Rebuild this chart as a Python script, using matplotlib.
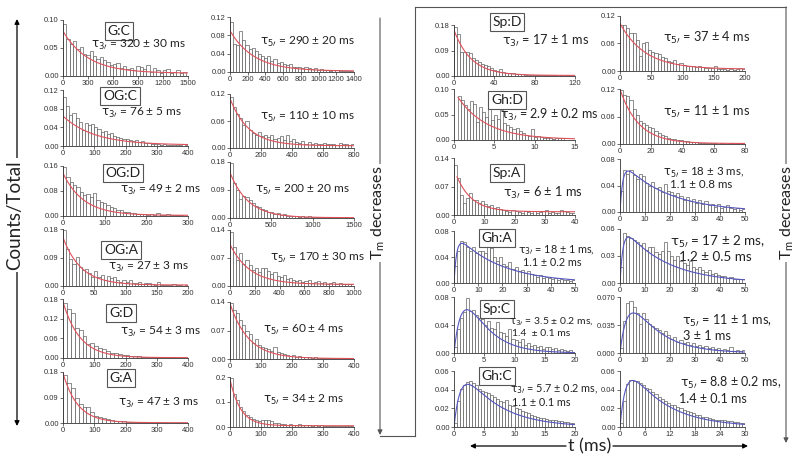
import numpy as np
import matplotlib
matplotlib.use("Agg")
import matplotlib.pyplot as plt
from matplotlib.patches import FancyArrowPatch
from matplotlib.lines import Line2D

plt.rcParams["mathtext.fontset"] = "dejavusans"

# ---------------- data ----------------
left_names = ["G:C", "OG:C", "OG:D", "OG:A", "G:D", "G:A"]
right_names = ["Sp:D", "Gh:D", "Sp:A", "Gh:A", "Sp:C", "Gh:C"]

tau3_left = ["320 ± 30 ms", "76 ± 5 ms", "49 ± 2 ms", "27 ± 3 ms", "54 ± 3 ms", "47 ± 3 ms"]
tau5_left = ["290 ± 20 ms", "110 ± 10 ms", "200 ± 20 ms", "170 ± 30 ms", "60 ± 4 ms", "34 ± 2 ms"]
tau3_right = [["17 ± 1 ms"], ["2.9 ± 0.2 ms"], ["6 ± 1 ms"],
              ["18 ± 1 ms,", "1.1 ± 0.2 ms"], ["3.5 ± 0.2 ms,", "1.4  ± 0.1 ms"],
              ["5.7 ± 0.2 ms,", "1.1 ± 0.1 ms"]]
tau5_right = [["37 ± 4 ms"], ["11 ± 1 ms"], ["18 ± 3 ms,", "1.1 ± 0.8 ms"],
              ["17 ± 2 ms,", "1.2 ± 0.5 ms"], ["11 ± 1 ms,", "3 ± 1 ms"],
              ["8.8 ± 0.2 ms,", "1.4 ± 0.1 ms"]]

# histogram heights (Counts/Total)
gc_3 = [0.093, 0.066, 0.058, 0.062, 0.048, 0.052, 0.040, 0.038, 0.045, 0.035, 0.030, 0.034, 0.028,
        0.025, 0.020, 0.022, 0.024, 0.015, 0.018, 0.012, 0.014, 0.010, 0.018, 0.016, 0.012, 0.020,
        0.008, 0.014, 0.010, 0.006, 0.010, 0.012, 0.006, 0.008, 0.010, 0.005, 0.008]
gc_5 = [0.110, 0.062, 0.058, 0.089, 0.070, 0.058, 0.050, 0.052, 0.045, 0.040, 0.035, 0.030, 0.035,
        0.025, 0.028, 0.020, 0.022, 0.018, 0.015, 0.018, 0.012, 0.010, 0.012, 0.008, 0.010, 0.008,
        0.006, 0.008, 0.005, 0.006, 0.004, 0.005, 0.003, 0.004, 0.005, 0.002, 0.003, 0.002, 0.003, 0.002]
ogc_3 = [0.106, 0.086, 0.066, 0.070, 0.060, 0.052, 0.034, 0.050, 0.044, 0.048, 0.040, 0.036, 0.030,
         0.032, 0.025, 0.028, 0.022, 0.020, 0.018, 0.015, 0.016, 0.012, 0.010, 0.012, 0.008, 0.010,
         0.006, 0.007, 0.005, 0.004, 0.005, 0.003, 0.004, 0.002, 0.003, 0.002, 0.003, 0.002, 0.001, 0.002]
ogc_5 = [0.114, 0.092, 0.076, 0.066, 0.052, 0.060, 0.040, 0.034, 0.030, 0.036, 0.026, 0.030, 0.024,
         0.028, 0.020, 0.022, 0.026, 0.018, 0.030, 0.016, 0.020, 0.014, 0.012, 0.016, 0.010, 0.014,
         0.008, 0.012, 0.010, 0.008, 0.012, 0.010, 0.008, 0.010, 0.006, 0.012, 0.008, 0.010, 0.006, 0.008]
ogd_3 = [0.156, 0.126, 0.108, 0.100, 0.092, 0.078, 0.066, 0.070, 0.062, 0.072, 0.050, 0.044, 0.040,
         0.034, 0.030, 0.024, 0.020, 0.018, 0.014, 0.012, 0.010, 0.008, 0.007, 0.006, 0.005, 0.004,
         0.006, 0.003, 0.008, 0.004, 0.002, 0.006, 0.003, 0.002, 0.003, 0.002, 0.001]
ogd_5 = [0.178, 0.112, 0.090, 0.060, 0.070, 0.068, 0.058, 0.048, 0.040, 0.034, 0.030, 0.026, 0.020,
         0.018, 0.014, 0.016, 0.010, 0.012, 0.008, 0.006, 0.008, 0.006, 0.004, 0.005, 0.003, 0.006,
         0.002, 0.003, 0.002, 0.002, 0.003, 0.001, 0.002, 0.001, 0.002, 0.001, 0.001, 0.002, 0.001, 0.001]
oga_3 = [0.178, 0.116, 0.084, 0.068, 0.092, 0.060, 0.050, 0.054, 0.040, 0.030, 0.046, 0.028, 0.036,
         0.020, 0.032, 0.024, 0.030, 0.018, 0.014, 0.020, 0.012, 0.018, 0.010, 0.008, 0.012, 0.006,
         0.008, 0.010, 0.005, 0.004, 0.014, 0.004, 0.003, 0.002, 0.004, 0.006, 0.002, 0.003, 0.001, 0.002]
oga_5 = [0.136, 0.098, 0.064, 0.082, 0.056, 0.066, 0.052, 0.040, 0.046, 0.036, 0.044, 0.046, 0.038,
         0.030, 0.034, 0.026, 0.022, 0.028, 0.018, 0.020, 0.014, 0.012, 0.016, 0.010, 0.012, 0.014,
         0.008, 0.010, 0.012, 0.008, 0.010, 0.006, 0.008, 0.010, 0.006, 0.008, 0.004, 0.006, 0.005, 0.004]
gd_3 = [0.168, 0.148, 0.138, 0.092, 0.086, 0.066, 0.042, 0.046, 0.036, 0.032, 0.026, 0.022, 0.016,
        0.014, 0.012, 0.010, 0.008, 0.006, 0.006, 0.005, 0.004, 0.003, 0.004, 0.002, 0.002, 0.001,
        0.002, 0.001, 0.001, 0.0, 0.0, 0.001]
gd_5 = [0.138, 0.120, 0.112, 0.096, 0.084, 0.068, 0.062, 0.040, 0.048, 0.034, 0.030, 0.026, 0.024,
        0.020, 0.030, 0.016, 0.014, 0.012, 0.010, 0.008, 0.009, 0.006, 0.007, 0.005, 0.004, 0.005,
        0.003, 0.006, 0.003, 0.002, 0.003, 0.002, 0.002, 0.003, 0.001, 0.002, 0.001, 0.001, 0.002, 0.001]
ga_3 = [0.168, 0.140, 0.122, 0.088, 0.068, 0.058, 0.056, 0.038, 0.026, 0.020, 0.016, 0.014, 0.010,
        0.008, 0.006, 0.006, 0.004, 0.003, 0.002, 0.003, 0.002, 0.002, 0.001, 0.001, 0.001, 0.0,
        0.001, 0.0, 0.001, 0.0, 0.0, 0.001]
ga_5 = [0.197, 0.134, 0.108, 0.080, 0.066, 0.048, 0.040, 0.034, 0.028, 0.026, 0.030, 0.028, 0.028,
        0.026, 0.016, 0.018, 0.012, 0.014, 0.010, 0.012, 0.008, 0.010, 0.012, 0.010, 0.008, 0.010,
        0.006, 0.008, 0.006, 0.008, 0.005, 0.006, 0.005, 0.004, 0.005, 0.004, 0.005, 0.003, 0.004, 0.006]
spd_3 = [0.174, 0.150, 0.086, 0.086, 0.084, 0.080, 0.064, 0.058, 0.050, 0.044, 0.040, 0.036, 0.030,
         0.022, 0.018, 0.024, 0.014, 0.012, 0.010, 0.012, 0.008, 0.006, 0.008, 0.005, 0.004, 0.005,
         0.003, 0.004, 0.002, 0.003, 0.002, 0.003, 0.002, 0.002, 0.001, 0.002, 0.001, 0.003, 0.001, 0.001]
spd_5 = [0.100, 0.100, 0.094, 0.082, 0.082, 0.068, 0.032, 0.060, 0.064, 0.046, 0.042, 0.040, 0.036,
         0.030, 0.028, 0.022, 0.020, 0.024, 0.016, 0.018, 0.014, 0.012, 0.012, 0.010, 0.008, 0.010,
         0.008, 0.006, 0.007, 0.006, 0.010, 0.005, 0.004, 0.005, 0.003, 0.004, 0.003, 0.004, 0.006, 0.004]
ghd_3 = [0.086, 0.078, 0.068, 0.060, 0.076, 0.070, 0.036, 0.064, 0.054, 0.046, 0.060, 0.040, 0.050,
         0.042, 0.058, 0.034, 0.030, 0.026, 0.022, 0.024, 0.018, 0.014, 0.010, 0.008, 0.022, 0.006,
         0.008, 0.006, 0.004, 0.003, 0.004, 0.002, 0.003, 0.004, 0.003]
ghd_5 = [0.117, 0.108, 0.104, 0.096, 0.076, 0.064, 0.050, 0.046, 0.042, 0.038, 0.036, 0.028, 0.024,
         0.020, 0.018, 0.014, 0.012, 0.010, 0.009, 0.008, 0.006, 0.007, 0.005, 0.004, 0.004, 0.003,
         0.003, 0.002, 0.003, 0.002, 0.002, 0.001, 0.002, 0.001, 0.001, 0.002, 0.0, 0.0, 0.0, 0.0]
spa_3 = [0.124, 0.090, 0.050, 0.030, 0.042, 0.054, 0.036, 0.038, 0.030, 0.034, 0.026, 0.022, 0.024,
         0.018, 0.020, 0.014, 0.012, 0.010, 0.008, 0.012, 0.010, 0.008, 0.006, 0.010, 0.008, 0.006,
         0.010, 0.006, 0.008, 0.010, 0.012, 0.006, 0.008, 0.004, 0.006, 0.012, 0.010, 0.008, 0.006, 0.004]
spa_5 = [0.031, 0.063, 0.058, 0.064, 0.056, 0.050, 0.058, 0.054, 0.044, 0.040, 0.046, 0.036, 0.038,
         0.030, 0.042, 0.032, 0.030, 0.026, 0.028, 0.024, 0.018, 0.022, 0.016, 0.020, 0.014, 0.018,
         0.012, 0.016, 0.010, 0.012, 0.008, 0.012, 0.006, 0.008, 0.010, 0.006, 0.004, 0.006, 0.003, 0.004]
gha_3 = [0.026, 0.050, 0.065, 0.063, 0.056, 0.050, 0.056, 0.046, 0.050, 0.050, 0.046, 0.056, 0.054,
         0.040, 0.034, 0.040, 0.030, 0.026, 0.032, 0.022, 0.024, 0.018, 0.020, 0.016, 0.018, 0.014,
         0.012, 0.010, 0.012, 0.008, 0.010, 0.008, 0.006, 0.008, 0.005, 0.006, 0.004, 0.005, 0.003, 0.004]
gha_5 = [0.018, 0.056, 0.052, 0.050, 0.048, 0.046, 0.042, 0.044, 0.037, 0.040, 0.040, 0.034, 0.032,
         0.036, 0.046, 0.036, 0.030, 0.026, 0.030, 0.024, 0.022, 0.020, 0.024, 0.018, 0.016, 0.018,
         0.014, 0.012, 0.014, 0.010, 0.011, 0.009, 0.008, 0.008, 0.006, 0.007, 0.005, 0.005, 0.004, 0.004]
spc_3 = [0.008, 0.034, 0.050, 0.058, 0.078, 0.060, 0.062, 0.054, 0.050, 0.048, 0.040, 0.046, 0.036,
         0.034, 0.044, 0.030, 0.028, 0.024, 0.034, 0.020, 0.018, 0.016, 0.020, 0.012, 0.014, 0.010,
         0.012, 0.008, 0.010, 0.006, 0.008, 0.008, 0.006, 0.007, 0.004, 0.006, 0.004, 0.003, 0.004, 0.002]
spc_5 = [0.006, 0.040, 0.062, 0.065, 0.058, 0.050, 0.036, 0.050, 0.042, 0.036, 0.034, 0.031, 0.029,
         0.025, 0.028, 0.022, 0.018, 0.020, 0.014, 0.016, 0.012, 0.014, 0.010, 0.012, 0.009, 0.010,
         0.008, 0.009, 0.006, 0.008, 0.005, 0.006, 0.004, 0.005, 0.004, 0.008, 0.003, 0.004, 0.002, 0.004]
ghc_3 = [0.004, 0.028, 0.041, 0.045, 0.048, 0.049, 0.047, 0.045, 0.041, 0.039, 0.038, 0.036, 0.034,
         0.032, 0.030, 0.028, 0.027, 0.029, 0.024, 0.022, 0.020, 0.019, 0.017, 0.016, 0.015, 0.013,
         0.012, 0.011, 0.010, 0.010, 0.009, 0.008, 0.008, 0.007, 0.006, 0.006, 0.005, 0.005, 0.004, 0.004]
ghc_5 = [0.004, 0.028, 0.046, 0.050, 0.049, 0.049, 0.047, 0.045, 0.042, 0.041, 0.038, 0.035, 0.032,
         0.030, 0.028, 0.026, 0.024, 0.024, 0.021, 0.020, 0.018, 0.017, 0.016, 0.015, 0.013, 0.013,
         0.011, 0.011, 0.010, 0.009, 0.008, 0.008, 0.007, 0.007, 0.006, 0.006, 0.005, 0.005, 0.004, 0.004]

# bin start / width (ms)
bins_c1 = [(0, 40), (0, 10), (0, 8), (0, 5), (0, 12.5), (0, 12.5)]
bins_c2 = [(0, 35), (0, 20), (0, 37.5), (0, 25), (0, 10), (0, 10)]
bins_c3 = [(0, 3), (0.5, 0.375), (0, 1), (0, 1.25), (0, 0.5), (0, 0.5)]
bins_c4 = [(0, 5), (0, 2), (0, 1.25), (0, 1.25), (0, 1.25), (0, 0.75)]

# fits: mono-exponential (amp, tau, offset, t0) or rise/decay (A, tau1, tau2)
fit_c1 = [("mono", 0.075, 300, 0.005, 0), ("mono", 0.062, 100, 0.002, 0), ("mono", 0.135, 49, 0.002, 0),
          ("mono", 0.150, 29, 0.003, 0), ("mono", 0.170, 54, 0.001, 0), ("mono", 0.175, 47, 0.001, 0)]
fit_c2 = [("mono", 0.088, 270, 0.002, 0), ("mono", 0.105, 120, 0.005, 0), ("mono", 0.145, 220, 0.001, 0),
          ("mono", 0.100, 160, 0.004, 0), ("mono", 0.135, 60, 0.001, 0), ("mono", 0.185, 34, 0.005, 0)]
fit_c3 = [("mono", 0.160, 17, 0.002, 0), ("mono", 0.095, 3.6, 0.001, 0.5), ("mono", 0.105, 5, 0.008, 1),
          ("bi", 0.078, 18, 1.1), ("bi", 0.19, 3.5, 1.4), ("bi", 0.084, 5.7, 1.1)]
fit_c4 = [("mono", 0.100, 40, 0.004, 0), ("mono", 0.118, 12, 0.001, 0), ("bi", 0.079, 18, 1.1),
          ("bi", 0.067, 17, 1.2), ("bi", 0.112, 11, 3), ("bi", 0.084, 8.8, 1.4)]

# axes scales
xlim_c1 = [1500, 400, 300, 200, 400, 400]
xticks_c1 = [[0, 300, 600, 900, 1200, 1500], [0, 100, 200, 300, 400], [0, 100, 200, 300],
             [0, 50, 100, 150, 200], [0, 100, 200, 300, 400], [0, 100, 200, 300, 400]]
yticks_c1 = [["0.00", "0.05", "0.10"], ["0.00", "0.04", "0.08", "0.12"], ["0.00", "0.08", "0.16"],
             ["0.00", "0.09", "0.18"], ["0.00", "0.06", "0.12", "0.18"], ["0.00", "0.09", "0.18"]]
xlim_c2 = [1400, 800, 1500, 1000, 400, 400]
xticks_c2 = [[0, 200, 400, 600, 800, 1000, 1200, 1400], [0, 200, 400, 600, 800], [0, 500, 1000, 1500],
             [0, 200, 400, 600, 800, 1000], [0, 100, 200, 300, 400], [0, 100, 200, 300, 400]]
yticks_c2 = [["0.00", "0.04", "0.08", "0.12"], ["0.00", "0.06", "0.12"], ["0.00", "0.09", "0.18"],
             ["0.00", "0.07", "0.14"], ["0.00", "0.07", "0.14"], ["0.0", "0.1", "0.2"]]
xlim_c3 = [120, 15, 40, 50, 20, 20]
xticks_c3 = [[0, 40, 80, 120], [0, 5, 10, 15], [0, 10, 20, 30, 40], [0, 10, 20, 30, 40, 50],
             [0, 5, 10, 15, 20], [0, 5, 10, 15, 20]]
yticks_c3 = [["0.00", "0.09", "0.18"], ["0.00", "0.05", "0.10"], ["0.00", "0.07", "0.14"],
             ["0.00", "0.04", "0.08"], ["0.00", "0.04", "0.08"], ["0.00", "0.02", "0.04", "0.06"]]
xlim_c4 = [200, 80, 50, 50, 50, 30]
xticks_c4 = [[0, 50, 100, 150, 200], [0, 20, 40, 60, 80], [0, 10, 20, 30, 40, 50],
             [0, 10, 20, 30, 40, 50], [0, 10, 20, 30, 40, 50], [0, 6, 12, 18, 24, 30]]
yticks_c4 = [["0.00", "0.06", "0.12"], ["0.00", "0.06", "0.12"], ["0.00", "0.04", "0.08"],
             ["0.00", "0.03", "0.06"], ["0.000", "0.035", "0.070"], ["0.00", "0.02", "0.04", "0.06"]]

hist_c1 = [gc_3, ogc_3, ogd_3, oga_3, gd_3, ga_3]
hist_c2 = [gc_5, ogc_5, ogd_5, oga_5, gd_5, ga_5]
hist_c3 = [spd_3, ghd_3, spa_3, gha_3, spc_3, ghc_3]
hist_c4 = [spd_5, ghd_5, spa_5, gha_5, spc_5, ghc_5]

# ---------------- layout (pixels) ----------------
W, H = 800, 462
fig = plt.figure(figsize=(W / 100, H / 100), dpi=100)
TXT = ["Lato", "DejaVu Sans"]

def fx(x):
    return x / W

def fy(y):
    return 1 - y / H

col_x = [(63, 188), (230, 354), (454, 575), (620, 745)]
rows = [
    [(20, 76), (90, 146), (166, 216), (229, 286), (299, 358), (372, 423)],
    [(17, 72), (94, 148), (162, 218), (230, 286), (302, 359), (377, 427)],
    [(25, 76), (89, 140), (158, 215), (231, 283), (297, 353), (371, 427)],
    [(16, 71), (89, 144), (159, 212), (229, 283), (297, 353), (371, 427)],
]

RED = "#e0505a"
BLUE = "#5555c0"


def draw_panel(c, r, vals, binspec, fit, xmax, xt, ytl):
    x0, x1 = col_x[c]
    yt, yb = rows[c][r]
    ax = fig.add_axes([fx(x0), fy(yb), (x1 - x0) / W, (yb - yt) / H])
    start, width = binspec
    lefts = start + width * np.arange(len(vals))
    ax.bar(lefts, vals, width=width, align="edge", facecolor="white",
           edgecolor="#505050", linewidth=0.45)
    if fit[0] == "mono":
        _, a, tau, off, t0 = fit
        t = np.linspace(t0, xmax, 300)
        ax.plot(t, a * np.exp(-t / tau) + off, color=RED, lw=0.8)
    else:
        _, a, t1, t2 = fit
        t = np.linspace(0, xmax, 400)
        ax.plot(t, a * (np.exp(-t / t1) - np.exp(-t / t2)), color=BLUE, lw=0.8)
    ymax = float(ytl[-1])
    ax.set_xlim(0, xmax)
    ax.set_ylim(0, ymax)
    ax.set_xticks(xt)
    ax.set_xticklabels([str(v) for v in xt])
    ax.set_yticks([float(s) for s in ytl])
    ax.set_yticklabels(ytl)
    for s in ["top", "right"]:
        ax.spines[s].set_visible(False)
    for s in ["left", "bottom"]:
        ax.spines[s].set_linewidth(0.6)
        ax.spines[s].set_color("#333333")
    ax.tick_params(labelsize=5.5, length=2, width=0.5, pad=1, colors="#333333")
    for lab in ax.get_xticklabels() + ax.get_yticklabels():
        lab.set_family("Liberation Sans")
    return ax


for r in range(6):
    draw_panel(0, r, hist_c1[r], bins_c1[r], fit_c1[r], xlim_c1[r], xticks_c1[r], yticks_c1[r])
    draw_panel(1, r, hist_c2[r], bins_c2[r], fit_c2[r], xlim_c2[r], xticks_c2[r], yticks_c2[r])
    draw_panel(2, r, hist_c3[r], bins_c3[r], fit_c3[r], xlim_c3[r], xticks_c3[r], yticks_c3[r])
    draw_panel(3, r, hist_c4[r], bins_c4[r], fit_c4[r], xlim_c4[r], xticks_c4[r], yticks_c4[r])

# label boxes
box_pos_left = [(119, 31), (120, 96), (123, 173), (121, 250), (121, 313), (121, 378)]
box_pos_right = [(507, 22), (507, 100), (507, 173), (497, 238), (497, 309), (497, 376)]
for names, poss in ((left_names, box_pos_left), (right_names, box_pos_right)):
    for n, (x, y) in zip(names, poss):
        fig.text(fx(x), fy(y), n, ha="center", va="center", fontsize=10, family=TXT,
                 color="#222222",
                 bbox=dict(boxstyle="square,pad=0.2", fc="white", ec="#555555", lw=0.8))

T3 = r"$\mathrm{\tau_{3\prime}}$ = "
T5 = r"$\mathrm{\tau_{5\prime}}$ = "

pos_c1 = [(91, 45), (101, 113), (120, 190), (108, 267), (120, 332), (118, 403)]
pos_c2 = [(260, 42), (260, 117), (255, 190), (270, 258), (263, 330), (263, 400)]
for r in range(6):
    fig.text(fx(pos_c1[r][0]), fy(pos_c1[r][1]), T3 + tau3_left[r], ha="left", va="center",
             fontsize=8.6, family=TXT, color="#222222")
    fig.text(fx(pos_c2[r][0]), fy(pos_c2[r][1]), T5 + tau5_left[r], ha="left", va="center",
             fontsize=8.6, family=TXT, color="#222222")

pos_c3 = [[(502, 41)], [(500, 115)], [(503, 193)], [(518, 250), (523, 263)],
          [(509, 322), (512, 334)], [(510, 389), (512, 403)]]
fs_c3 = [9.2, 9.0, 9.2, 7.8, 7.5, 7.8]
pos_c4 = [[(663, 38)], [(663, 112)], [(663, 173), (670, 184)], [(670, 242), (679, 257)],
          [(682, 321), (683, 336)], [(680, 383), (679, 399)]]
fs_c4 = [9.2, 9.2, 8.3, 9.7, 9.2, 9.0]
for r in range(6):
    for k, (x, y) in enumerate(pos_c3[r]):
        s = (T3 if k == 0 else "") + tau3_right[r][k]
        fig.text(fx(x), fy(y), s, ha="left", va="center", fontsize=fs_c3[r], family=TXT, color="#222222")
    for k, (x, y) in enumerate(pos_c4[r]):
        s = (T5 if k == 0 else "") + tau5_right[r][k]
        fig.text(fx(x), fy(y), s, ha="left", va="center", fontsize=fs_c4[r], family=TXT, color="#222222")

# ---------------- annotations ----------------
def arrow(p0, p1, color="black", lw=0.9):
    a = FancyArrowPatch((fx(p0[0]), fy(p0[1])), (fx(p1[0]), fy(p1[1])), transform=fig.transFigure,
                        arrowstyle="-|>", mutation_scale=7, lw=lw, color=color,
                        shrinkA=0, shrinkB=0)
    fig.add_artist(a)

# Counts/Total
arrow((17, 215), (17, 19))
arrow((17, 215), (17, 426))
fig.text(fx(15), fy(215), "Counts/Total", rotation=90, ha="center", va="center", fontsize=13.5,
         family=TXT, color="#222222", bbox=dict(fc="white", ec="none", pad=1.5))

# T_m decreases connectors
arrow((380, 18), (380, 435), color="#555555", lw=0.8)
for (a0, a1) in [((380, 436), (415, 436)), ((415, 436), (415, 7)), ((415, 7), (786, 7))]:
    fig.add_artist(Line2D([fx(a0[0]), fx(a1[0])], [fy(a0[1]), fy(a1[1])], transform=fig.transFigure,
                          color="#555555", lw=0.8))
arrow((786, 7), (786, 443), color="#555555", lw=0.8)
for xx in (378, 787):
    fig.text(fx(xx), fy(213), r"T$_{\mathregular{m}}$ decreases", rotation=90, ha="center", va="center",
             fontsize=11.5, family=TXT, color="#222222", bbox=dict(fc="white", ec="none", pad=1.0))

# t (ms)
fig.text(fx(590), fy(446), "t (ms)", ha="center", va="center", fontsize=13, family=TXT, color="#222222")
arrow((566, 446), (470, 446))
arrow((613, 446), (748, 446))

fig.savefig("out.png", dpi=100)
